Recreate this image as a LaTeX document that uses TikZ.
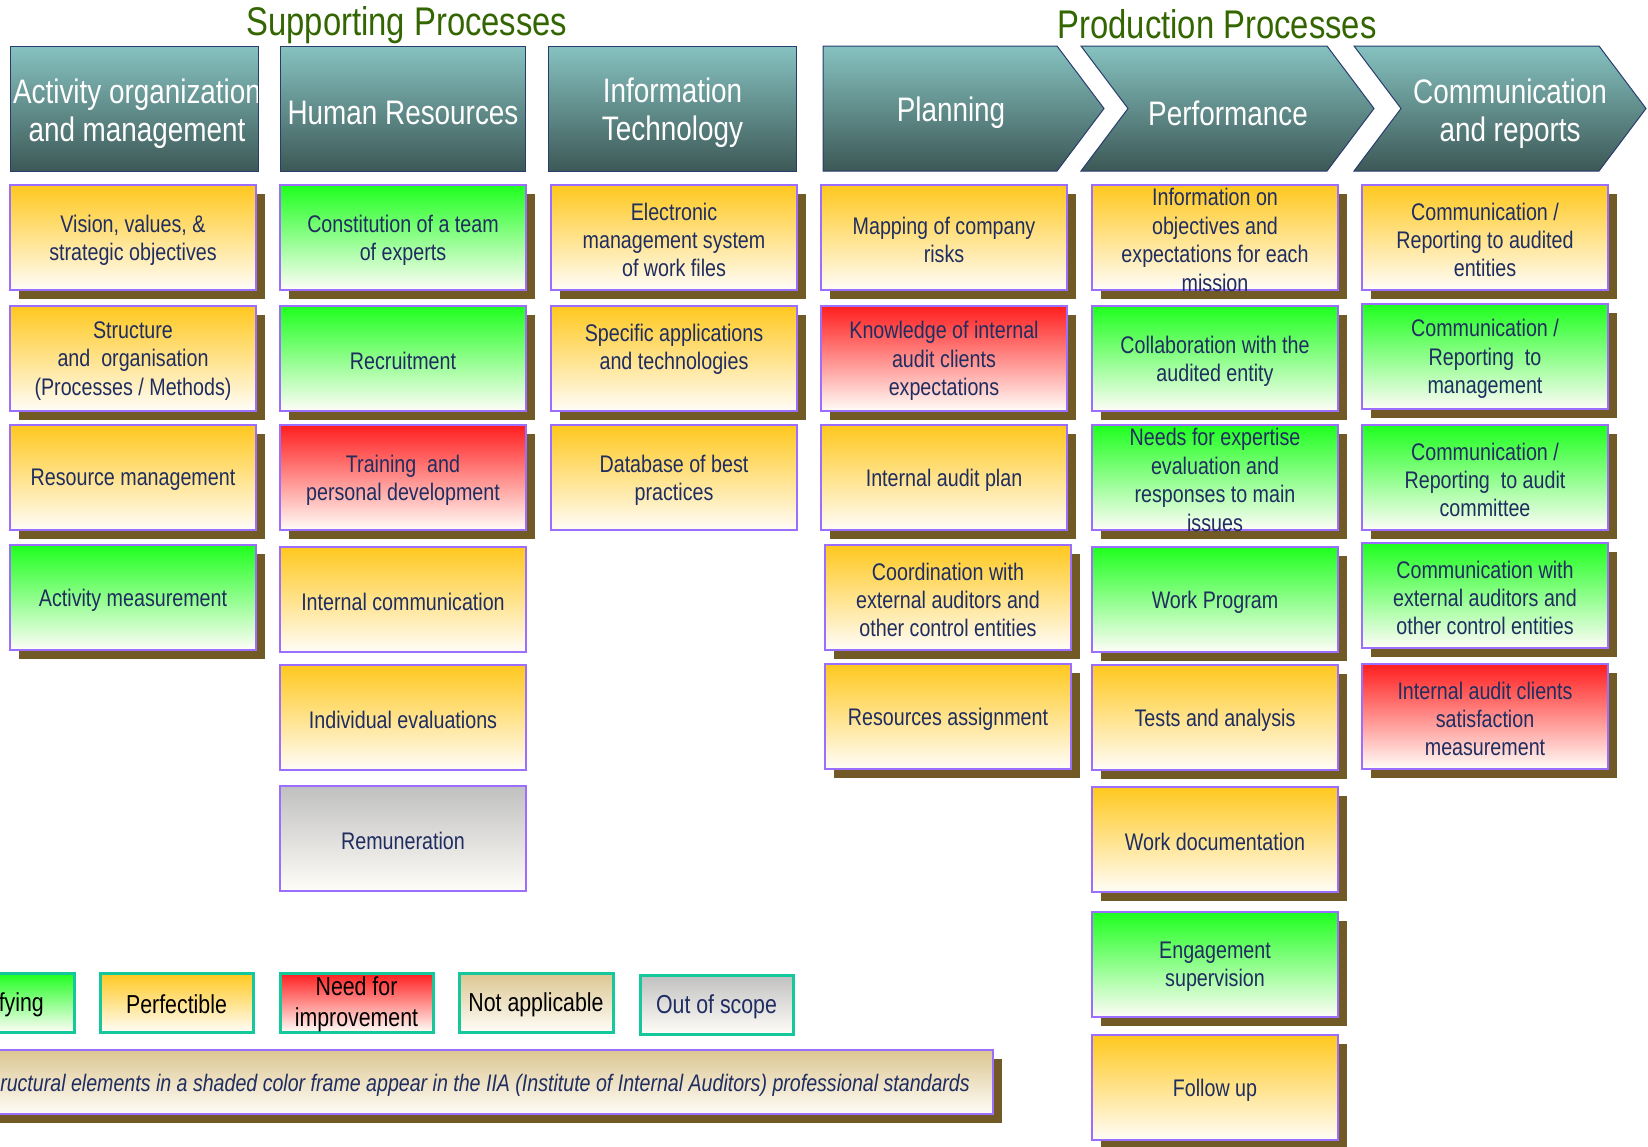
\documentclass[tikz,border=0pt]{standalone}
\usepackage{fontspec}
\setmainfont{Liberation Sans}[FakeStretch=0.82]
\usetikzlibrary{shadows}
\definecolor{shadowc}{RGB}{113,90,38}
\definecolor{boxline}{RGB}{155,110,255}
\definecolor{txt}{RGB}{31,45,96}
\definecolor{hdtop}{RGB}{134,194,192}
\definecolor{hdbot}{RGB}{60,88,86}
\definecolor{hdline}{RGB}{40,60,110}
\definecolor{orangec}{RGB}{255,200,30}
\definecolor{greenc}{RGB}{30,255,30}
\definecolor{redc}{RGB}{255,30,30}
\definecolor{grayc}{RGB}{192,192,192}
\definecolor{tanc}{RGB}{220,198,145}
\definecolor{paper}{RGB}{255,253,248}
\definecolor{legline}{RGB}{20,200,155}
\definecolor{titlec}{RGB}{51,102,0}
\tikzset{
  frame/.style={draw=boxline, line width=2.5pt, inner sep=0pt, outer sep=0pt, anchor=north west},
  legframe/.style={draw=legline, line width=3pt, inner sep=0pt, outer sep=0pt, anchor=north west},
  fillorange/.style={top color=orangec, bottom color=paper},
  fillgreen/.style={top color=greenc, bottom color=paper},
  fillred/.style={top color=redc, bottom color=paper},
  fillgray/.style={top color=grayc, bottom color=paper},
  filltan/.style={top color=tanc, bottom color=paper},
  sh/.style={drop shadow={shadow xshift=9pt, shadow yshift=-9pt, fill=shadowc, opacity=1}},
  boxtext/.style={text=txt, align=center, font=\fontsize{24}{28.4}\selectfont, inner sep=0pt, yshift=-2.5pt},
  legtext/.style={text=black, align=center, font=\fontsize{26}{31}\selectfont, inner sep=0pt, yshift=-2pt},
  hdr/.style={draw=hdline, line width=1pt, top color=hdtop, bottom color=hdbot},
  hdtext/.style={text=white, align=center, font=\fontsize{34}{38}\selectfont, inner sep=0pt, yshift=-4pt},
  titletext/.style={text=titlec, font=\fontsize{40}{46}\selectfont, inner sep=0pt}
}
% name, x, y, style, text  (box 246 x 105)
\newcommand\pbox[5]{%
  \node[frame,#4,minimum width=246pt,minimum height=105pt] (#1) at (#2,#3) {};
  \node[boxtext] (#1-t) at (#1.center) {#5};
}
\begin{document}
\begin{tikzpicture}[x=1pt,y=-1pt]
\useasboundingbox (0,0) rectangle (1648,1146);
\clip (0,0) rectangle (1648,1146);

% titles
\node[titletext] (tsup) at (407,25) {Supporting Processes};
\node[titletext] (tprod) at (1217,24) {Production Processes};

% rectangular headers
\node[hdr, anchor=north west, minimum width=248pt, minimum height=125pt, inner sep=0pt] (h1) at (9.5,46) {};
\node[hdr, anchor=north west, minimum width=245pt, minimum height=125pt, inner sep=0pt] (h2) at (280,46) {};
\node[hdr, anchor=north west, minimum width=248pt, minimum height=125pt, inner sep=0pt] (h3) at (548,46) {};
\begin{scope}
  \clip (9.5,46) rectangle (257.5,171);
  \node[hdtext] (h1t) at (137,110) {Activity organization\\and management};
\end{scope}
\node[hdtext] (h2t) at (h2.center) {Human Resources};
\node[hdtext] (h3t) at (h3.center) {Information\\Technology};

% chevrons
\path[hdr] (823,46) -- (1057,46) -- (1104,108.5) -- (1057,171) -- (823,171) -- cycle;
\path[hdr] (1081,46) -- (1327,46) -- (1374,108.5) -- (1327,171) -- (1081,171) -- (1128,108.5) -- cycle;
\path[hdr] (1354,46) -- (1599,46) -- (1646,108.5) -- (1599,171) -- (1354,171) -- (1401,108.5) -- cycle;
\node[hdtext] (h4t) at (951,109) {Planning};
\node[hdtext] (h5t) at (1228,109) {Performance};
\node[hdtext] (h6t) at (1510,110) {Communication\\and reports};

% column 1
\pbox{a1}{10}{185}{fillorange,sh}{Vision, values, \&\\strategic objectives}
\pbox{a2}{10}{306}{fillorange,sh}{Structure\\and\ \ organisation\\(Processes / Methods)}
\pbox{a3}{10}{425}{fillorange,sh}{Resource management}
\pbox{a4}{10}{545}{fillgreen,sh}{Activity measurement}

% column 2
\pbox{b1}{280}{185}{fillgreen,sh}{Constitution of a team\\of experts}
\pbox{b2}{280}{306}{fillgreen,sh}{Recruitment}
\pbox{b3}{280}{425}{fillred,sh}{Training\ \ and\\personal development}
\pbox{b4}{280}{547}{fillorange}{Internal communication}
\pbox{b5}{280}{665}{fillorange}{Individual evaluations}
\pbox{b6}{280}{786}{fillgray}{Remuneration}

% column 3
\pbox{c1}{551}{185}{fillorange,sh}{Electronic\\management system\\of work files}
\pbox{c2}{551}{306}{fillorange,sh}{Specific applications\\and technologies\\\mbox{}}
\pbox{c3}{551}{425}{fillorange}{Database of best\\practices}

% column 4
\pbox{d1}{821}{185}{fillorange,sh}{Mapping of company\\risks}
\pbox{d2}{821}{306}{fillred,sh}{Knowledge of internal\\audit clients\\expectations}
\pbox{d3}{821}{425}{fillorange,sh}{Internal audit plan}
\pbox{d4}{825}{545}{fillorange,sh}{Coordination with\\external auditors and\\other control entities}
\pbox{d5}{825}{664}{fillorange,sh}{Resources assignment}

% column 5
\pbox{e1}{1092}{185}{fillorange,sh}{Information on\\objectives and\\expectations for each\\mission}
\pbox{e2}{1092}{306}{fillgreen,sh}{Collaboration with the\\audited entity}
\pbox{e3}{1092}{425}{fillgreen,sh}{Needs for expertise\\evaluation and\\responses to main\\issues}
\pbox{e4}{1092}{547}{fillgreen,sh}{Work Program}
\pbox{e5}{1092}{665}{fillorange,sh}{Tests and analysis}
\pbox{e6}{1092}{787}{fillorange,sh}{Work documentation}
\pbox{e7}{1092}{912}{fillgreen,sh}{Engagement\\supervision}
\pbox{e8}{1092}{1035}{fillorange,sh}{Follow up}

% column 6
\pbox{f1}{1362}{185}{fillorange,sh}{Communication /\\Reporting to audited\\entities}
\pbox{f2}{1362}{304}{fillgreen,sh}{Communication /\\Reporting\ \ to\\management}
\pbox{f3}{1362}{425}{fillgreen,sh}{Communication /\\Reporting\ \ to audit\\committee}
\pbox{f4}{1362}{543}{fillgreen,sh}{Communication with\\external auditors and\\other control entities}
\pbox{f5}{1362}{664}{fillred,sh}{Internal audit clients\\satisfaction\\measurement}

% legend
\node[legframe,fillgreen,minimum width=160pt,minimum height=59pt] (l1) at (-86,973) {};
\node[legtext, anchor=east] (l1t) at (44,1003) {fying};
\node[legframe,fillorange,minimum width=153pt,minimum height=59pt] (l2) at (100,973) {};
\node[legtext] (l2t) at (l2.center) {Perfectible};
\node[legframe,fillred,minimum width=153pt,minimum height=59pt] (l3) at (280,973) {};
\node[legtext] (l3t) at (l3.center) {Need for\\improvement};
\node[legframe,filltan,minimum width=154pt,minimum height=59pt] (l4) at (459,973) {};
\node[legtext] (l4t) at (l4.center) {Not applicable};
\node[legframe,fillgray,minimum width=153pt,minimum height=59pt] (l5) at (640,975) {};
\node[legtext, text=txt] (l5t) at (l5.center) {Out of scope};

% note bar
\node[frame,filltan,sh,minimum width=1015pt,minimum height=64pt] (nb) at (-22,1050) {};
\node[legtext, text=txt, anchor=east, font=\fontsize{23.9}{28}\selectfont\itshape] (nbt) at (970,1083) {ructural elements in a shaded color frame appear in the IIA (Institute of Internal Auditors) professional standards};
\end{tikzpicture}
\end{document}
